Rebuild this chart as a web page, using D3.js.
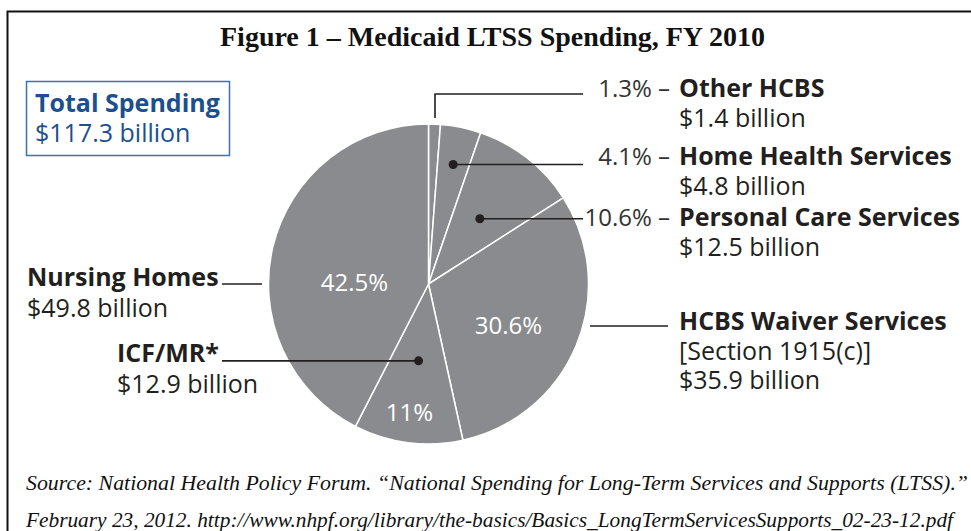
<!DOCTYPE html>
<html><head><meta charset="utf-8">
<script src="https://cdn.jsdelivr.net/npm/d3@7"></script>
<style>body{margin:0;background:#fff}svg{display:block}</style>
</head><body>
<svg id="c" width="971" height="531"></svg>
<script>
const categories = ["Other HCBS","Home Health Services","Personal Care Services","HCBS Waiver Services","ICF/MR*","Nursing Homes"];
const billions = [1.4, 4.8, 12.5, 35.9, 12.9, 49.8];
const pctLabels = ["1.3%","4.1%","10.6%","30.6%","11%","42.5%"];
const amountLabels = ["$1.4 billion","$4.8 billion","$12.5 billion","$35.9 billion","$12.9 billion","$49.8 billion"];
const totalLabel = "$117.3 billion";
const titleText = "Figure 1 \u2013 Medicaid LTSS Spending, FY 2010";
const sourceLines = ["Source: National Health Policy Forum. \u201cNational Spending for Long-Term Services and Supports (LTSS).\u201d",
  "February 23, 2012. http://www.nhpf.org/library/the-basics/Basics_LongTermServicesSupports_02-23-12.pdf"];

const svg = d3.select("#c");
const SANS = "'Open Sans', 'Noto Sans', sans-serif";
const SERIF = "'Liberation Serif', 'DejaVu Serif', serif";
const dark = "#231f20";
const FS = 25;

// frame
svg.append("rect").attr("x",7.5).attr("y",11.5).attr("width",980).attr("height",540)
  .attr("fill","none").attr("stroke","#111").attr("stroke-width",2);

svg.append("text").attr("x",220).attr("y",46)
  .attr("font-family",SERIF).attr("font-weight","bold").attr("font-size",26.5).attr("fill","#111")
  .attr("textLength",545).attr("lengthAdjust","spacingAndGlyphs")
  .text(titleText);

// total box
svg.append("rect").attr("x",26.5).attr("y",81.5).attr("width",203).attr("height",74)
  .attr("fill","none").attr("stroke","#3d72ad").attr("stroke-width",1.5);
svg.append("text").attr("x",35).attr("y",112).attr("font-family",SANS).attr("font-weight","bold")
  .attr("font-size",FS).attr("fill","#1b4f8e").text("Total Spending");
svg.append("text").attr("x",35).attr("y",142).attr("font-family",SANS)
  .attr("font-size",FS).attr("fill","#1b4f8e").text(totalLabel);

// pie
const cx = 428.5, cy = 284, R = 160;
const g = svg.append("g").attr("transform",`translate(${cx},${cy})`);
const pie = d3.pie().sort(null).value(d=>d);
const arcs = pie(billions);
const arc = d3.arc().innerRadius(0).outerRadius(R);
g.selectAll("path").data(arcs).join("path").attr("d",arc)
  .attr("fill","#8a8b8e").attr("stroke","#fff").attr("stroke-width",1.5).attr("stroke-linejoin","round");

function pt(a, r){ const m=(a.startAngle+a.endAngle)/2; return [Math.sin(m)*r, -Math.cos(m)*r]; }

// inner labels (white)
const inner = [{i:5,dx:-74,dy:-3},{i:3,dx:80,dy:40},{i:4,dx:-19,dy:127}];
inner.forEach(o=>{
  g.append("text").attr("x",o.dx).attr("y",o.dy).attr("text-anchor","middle").attr("dominant-baseline","central")
   .attr("font-family",SANS).attr("font-size",24).attr("fill","#fff").text(pctLabels[o.i]);
});

const line = (pts)=>svg.append("polyline").attr("points",pts.map(p=>p.join(",")).join(" "))
  .attr("fill","none").attr("stroke",dark).attr("stroke-width",1.6);
const dot = (p)=>svg.append("circle").attr("cx",p[0]).attr("cy",p[1]).attr("r",4.5).attr("fill",dark);

// Other HCBS leader
const a0 = arcs[0]; const p0 = pt(a0, R);
line([[cx+p0[0]+0.5, cy+p0[1]-6],[cx+p0[0]+0.5,94],[583,94]]);
// Home Health
const p1 = pt(arcs[1], 122); dot([cx+p1[0],cy+p1[1]]); line([[cx+p1[0],cy+p1[1]],[583,cy+p1[1]]]);
// Personal Care
const p2 = pt(arcs[2], 83); dot([cx+p2[0],cy+p2[1]]); line([[cx+p2[0],cy+p2[1]],[583,cy+p2[1]]]);
// HCBS waiver
line([[590,326],[668,326]]);
// Nursing homes
line([[222,284],[262,284]]);
// ICF/MR
const p4 = pt(arcs[4], 77.5); dot([cx+p4[0],cy+p4[1]]); line([[222,cy+p4[1]],[cx+p4[0],cy+p4[1]]]);

function rightLabel(i, y, extra){
  const t = svg.append("text").attr("x",679).attr("y",y).attr("font-family",SANS).attr("font-size",FS).attr("fill",dark);
  t.append("tspan").attr("font-weight","bold").text(categories[i]);
  svg.append("text").attr("x",679).attr("y",y+30).attr("font-family",SANS).attr("font-size",FS).attr("fill",dark).text(extra? extra : amountLabels[i]);
  if(extra) svg.append("text").attr("x",679).attr("y",y+59).attr("font-family",SANS).attr("font-size",FS).attr("fill",dark).text(amountLabels[i]);
}
function pctDash(i, y){
  svg.append("text").attr("x",670).attr("y",y).attr("text-anchor","end").attr("font-family",SANS)
    .attr("font-size",24).attr("fill","#333").text(pctLabels[i]+" \u2013");
}
rightLabel(0, 97); pctDash(0, 97);
rightLabel(1, 165); pctDash(1, 165);
rightLabel(2, 226); pctDash(2, 226);
rightLabel(3, 330, "[Section 1915(c)]");

svg.append("text").attr("x",27).attr("y",286).attr("font-family",SANS).attr("font-weight","bold").attr("font-size",FS).attr("fill",dark).text(categories[5]);
svg.append("text").attr("x",27).attr("y",317).attr("font-family",SANS).attr("font-size",FS).attr("fill",dark).text(amountLabels[5]);
svg.append("text").attr("x",117).attr("y",362).attr("font-family",SANS).attr("font-weight","bold").attr("font-size",FS).attr("fill",dark).text(categories[4]);
svg.append("text").attr("x",117).attr("y",393).attr("font-family",SANS).attr("font-size",FS).attr("fill",dark).text(amountLabels[4]);

// source
svg.append("text").attr("x",26).attr("y",490).attr("font-family",SERIF).attr("font-style","italic")
  .attr("font-size",20).attr("fill","#111").attr("textLength",942).attr("lengthAdjust","spacingAndGlyphs").text(sourceLines[0]);
svg.append("text").attr("x",26).attr("y",527).attr("font-family",SERIF).attr("font-style","italic")
  .attr("font-size",20).attr("fill","#111").attr("textLength",927).attr("lengthAdjust","spacingAndGlyphs").text(sourceLines[1]);
</script>
</body></html>
